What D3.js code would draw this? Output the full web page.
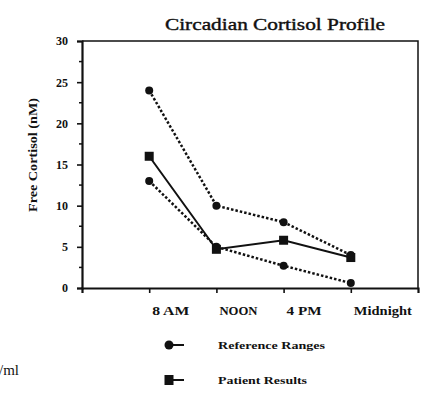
<!DOCTYPE html>
<html>
<head>
<meta charset="utf-8">
<script src="https://cdn.jsdelivr.net/npm/d3@7"></script>
<style>
  body { margin: 0; background: #fff; }
  svg { display: block; }
  text { font-family: "Liberation Serif", "Times New Roman", serif; fill: #111; }
</style>
</head>
<body>
<div class="chart"></div>
<script>
// Data
const times = ['8 AM', 'NOON', '4 PM', 'Midnight']
const refUpper = [24, 10, 8, 4]
const refLower = [13, 5, 2.7, 0.6]
const patient = [16, 4.7, 5.8, 3.7]
const yTicks = [0, 5, 10, 15, 20, 25, 30]

const chartTitle = 'Circadian Cortisol Profile'
const yTitle = 'Free Cortisol (nM)'
const legendText = ['Reference Ranges', 'Patient Results']

const width = 427
const height = 402
const margin = { top: 41, left: 82, right: 9, bottom: 114 }
const ink = '#111'

const svg = d3.select('.chart')
    .append('svg')
    .attr('width', width)
    .attr('height', height)

const x = d3.scaleLinear()
    .domain([0, times.length + 1])
    .range([margin.left, width - margin.right])

const y = d3.scaleLinear()
    .domain([0, 30])
    .range([height - margin.bottom, margin.top])

// Title
svg.append('text')
    .attr('x', 165)
    .attr('y', 30)
    .attr('font-size', 17)
    .attr('stroke', ink)
    .attr('stroke-width', 0.4)
    .attr('textLength', 220)
    .attr('lengthAdjust', 'spacingAndGlyphs')
    .text(chartTitle)

// Frame: top and right border
svg.append('path')
    .attr('fill', 'none')
    .attr('stroke', ink)
    .attr('stroke-width', 1.5)
    .attr('d', `M${x(0)},${y(30)}H${x(5)}V${y(0)}`)

// Y axis with major + minor ticks
const yAxis = svg.append('g')
    .attr('transform', `translate(${x(0)},0)`)
    .call(d3.axisLeft(y).tickValues(yTicks).tickSize(5).tickPadding(9))
yAxis.select('.domain').attr('stroke', ink).attr('stroke-width', 2.2)
yAxis.selectAll('.tick line').attr('stroke', ink).attr('stroke-width', 1.6)
yAxis.selectAll('.tick text')
    .attr('font-size', 12)
    .attr('font-weight', 'bold')
    .attr('font-family', '"Liberation Serif", serif')
    .attr('fill', ink)
yAxis.selectAll('.minor')
    .data(d3.range(2.5, 30, 5))
    .join('line')
    .attr('x1', 0).attr('x2', -3)
    .attr('y1', d => y(d)).attr('y2', d => y(d))
    .attr('stroke', ink)
    .attr('stroke-width', 1.5)

// X axis
const xAxis = svg.append('g')
    .attr('transform', `translate(0,${y(0)})`)
    .call(d3.axisBottom(x).tickValues([1, 2, 3, 4]).tickSize(5).tickFormat(''))
xAxis.select('.domain').attr('stroke', ink).attr('stroke-width', 2.2)
xAxis.selectAll('.tick line').attr('stroke', ink).attr('stroke-width', 1.6)

const labelWidths = [37, 38, 35, 58]
svg.append('g')
    .selectAll('text')
    .data(times)
    .join('text')
    .attr('x', (d, i) => x(i + 1) + 3)
    .attr('y', 315)
    .attr('font-size', 12)
    .attr('font-weight', 'bold')
    .attr('textLength', (d, i) => labelWidths[i])
    .attr('lengthAdjust', 'spacingAndGlyphs')
    .text(d => d)

// Y title
svg.append('text')
    .attr('transform', `translate(37,155) rotate(-90)`)
    .attr('text-anchor', 'middle')
    .attr('font-size', 13)
    .attr('font-weight', 'bold')
    .attr('textLength', 114)
    .attr('lengthAdjust', 'spacingAndGlyphs')
    .text(yTitle)

// Lines
const line = d3.line()
    .x((d, i) => x(i + 1))
    .y(d => y(d))

const refSeries = [refUpper, refLower]
svg.append('g')
    .selectAll('path')
    .data(refSeries)
    .join('path')
    .attr('fill', 'none')
    .attr('stroke', ink)
    .attr('stroke-width', 2.5)
    .attr('stroke-dasharray', '2.5,2')
    .attr('d', line)

svg.append('path')
    .datum(patient)
    .attr('fill', 'none')
    .attr('stroke', ink)
    .attr('stroke-width', 2)
    .attr('d', line)

// Markers
refSeries.forEach(s => {
    svg.append('g')
        .selectAll('circle')
        .data(s)
        .join('circle')
        .attr('cx', (d, i) => x(i + 1))
        .attr('cy', d => y(d))
        .attr('r', 4)
        .attr('fill', ink)
})

svg.append('g')
    .selectAll('rect')
    .data(patient)
    .join('rect')
    .attr('x', (d, i) => x(i + 1) - 4.5)
    .attr('y', d => y(d) - 4.5)
    .attr('width', 9)
    .attr('height', 9)
    .attr('fill', ink)

// Legend
const legend = svg.append('g')
    .selectAll('g')
    .data(legendText)
    .join('g')
    .attr('transform', (d, i) => `translate(169,${345 + i * 35})`)

legend.append('line')
    .attr('x1', 0).attr('x2', 15)
    .attr('y1', 0).attr('y2', 0)
    .attr('stroke', ink)
    .attr('stroke-width', 2)

legend.filter((d, i) => i === 0)
    .append('circle')
    .attr('r', 4.5)
    .attr('fill', ink)

legend.filter((d, i) => i === 1)
    .append('rect')
    .attr('x', -4.5).attr('y', -5)
    .attr('width', 9).attr('height', 10)
    .attr('fill', ink)

legend.append('text')
    .attr('x', 49)
    .attr('y', 4)
    .attr('font-size', 11)
    .attr('font-weight', 'bold')
    .attr('textLength', (d, i) => (i === 0 ? 107 : 89))
    .attr('lengthAdjust', 'spacingAndGlyphs')
    .text(d => d)

// Fragment of the page text showing at the left edge of the scan
svg.append('text')
    .attr('x', -1)
    .attr('y', 375)
    .attr('font-size', 15)
    .text('/ml')
</script>
</body>
</html>
